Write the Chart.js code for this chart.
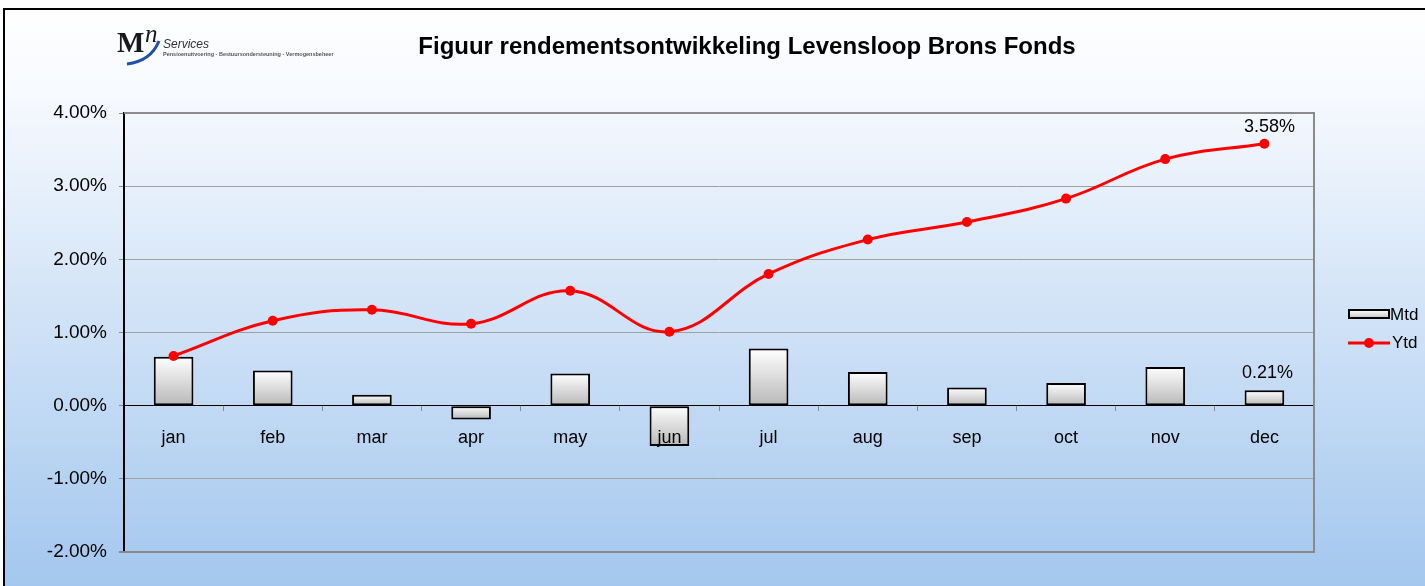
<!DOCTYPE html>
<html>
<head>
<meta charset="utf-8">
<script src="https://cdn.jsdelivr.net/npm/chart.js@4.4.1/dist/chart.umd.min.js"></script>
<style>
  html, body { margin: 0; padding: 0; background: #fff; }
  #wrap { width: 1425px; height: 586px; position: relative; }
</style>
</head>
<body>
<div id="wrap"><canvas id="chart" width="1425" height="586"></canvas></div>
<script>
const months = ["jan", "feb", "mar", "apr", "may", "jun", "jul", "aug", "sep", "oct", "nov", "dec"];
// maandrendement (in %)
const mtdValues = [0.67, 0.48, 0.15, -0.19, 0.44, -0.55, 0.78, 0.46, 0.25, 0.31, 0.53, 0.21];
// cumulatief rendement (in %)
const ytdValues = [0.68, 1.16, 1.31, 1.12, 1.57, 1.01, 1.80, 2.27, 2.51, 2.83, 3.37, 3.58];
const yTicks = [-2, -1, 0, 1, 2, 3, 4];

const FONT = "'Liberation Sans', Arial, sans-serif";
const fmtPct = v => v.toFixed(2) + "%";

// achtergrond, kader, logo en titel
const framePlugin = {
  id: 'frame',
  beforeDraw(chart) {
    const c = chart.ctx;
    c.save();
    c.fillStyle = '#ffffff';
    c.fillRect(0, 0, chart.width, chart.height);
    const g = c.createLinearGradient(0, 10, 0, chart.height);
    g.addColorStop(0, '#ffffff');
    g.addColorStop(0.15, '#f6f9fe');
    g.addColorStop(1, '#a3c7ee');
    c.fillStyle = g;
    c.fillRect(4, 10, chart.width - 4, chart.height - 10);
    c.fillStyle = '#000';
    c.fillRect(3, 8, chart.width - 3, 2);
    c.fillRect(3, 8, 2, chart.height - 8);

    // logo
    c.fillStyle = '#1a1a1a';
    c.font = "bold 29px 'Liberation Serif', 'DejaVu Serif', serif";
    c.textBaseline = 'alphabetic';
    c.fillText('M', 117, 52);
    c.font = "italic 25px 'Liberation Serif', 'DejaVu Serif', serif";
    c.fillText('n', 145, 42);
    c.strokeStyle = '#1f4fa8';
    c.lineWidth = 3;
    c.beginPath();
    c.moveTo(159, 41);
    c.quadraticCurveTo(151, 61, 127, 64);
    c.stroke();
    c.fillStyle = '#333';
    c.font = "italic 12px 'Liberation Sans', Arial, sans-serif";
    c.fillText('Services', 163, 48);
    c.font = "bold 5.5px 'Liberation Sans', Arial, sans-serif";
    c.fillStyle = '#555';
    c.fillText('Pensioenuitvoering - Bestuursondersteuning - Vermogensbeheer', 163, 56);

    // titel
    c.fillStyle = '#000';
    c.font = "bold 24px " + FONT;
    c.textAlign = 'center';
    c.textBaseline = 'middle';
    c.fillText('Figuur rendementsontwikkeling Levensloop Brons Fonds', 747, 47);
    c.restore();
  },
  beforeDatasetsDraw(chart) {
    const c = chart.ctx, a = chart.chartArea;
    c.save();
    c.strokeStyle = '#8a8a8a';
    c.lineWidth = 2;
    c.beginPath();
    c.moveTo(a.left, a.top);
    c.lineTo(a.right, a.top);
    c.lineTo(a.right, a.bottom);
    c.lineTo(a.left - 5, a.bottom);
    c.stroke();
    c.restore();
  },
  afterDraw(chart) {
    const c = chart.ctx;
    c.save();
    // waardelabels bij december
    c.fillStyle = '#000';
    c.font = "18px " + FONT;
    c.textAlign = 'center';
    c.textBaseline = 'middle';
    const ptL = chart.getDatasetMeta(1).data[11];
    c.fillText(fmtPct(ytdValues[11]), ptL.x + 5, ptL.y - 17);
    const bar = chart.getDatasetMeta(0).data[11];
    c.fillText(fmtPct(mtdValues[11]), bar.x + 3, bar.y - 17);

    // legenda
    const lx = 1349;
    const bg = c.createLinearGradient(0, 310, 0, 319);
    bg.addColorStop(0, '#ffffff');
    bg.addColorStop(1, '#bdbdbd');
    c.fillStyle = bg;
    c.fillRect(lx, 310, 40, 8);
    c.strokeStyle = '#000';
    c.lineWidth = 2;
    c.strokeRect(lx, 310, 40, 8);
    c.strokeStyle = '#ff0000';
    c.lineWidth = 3;
    c.beginPath();
    c.moveTo(lx - 1, 343);
    c.lineTo(lx + 41, 343);
    c.stroke();
    c.fillStyle = '#ff0000';
    c.beginPath();
    c.arc(lx + 20, 343, 5, 0, Math.PI * 2);
    c.fill();
    c.fillStyle = '#000';
    c.textAlign = 'left';
    c.font = "17px " + FONT;
    c.fillText('Mtd', lx + 41, 315);
    c.fillText('Ytd', lx + 43, 343);
    c.restore();
  }
};

function barGradient(context) {
  const chart = context.chart;
  if (!chart.chartArea || !chart.scales.y) return '#e0e0e0';
  const y = chart.scales.y;
  const v = context.raw;
  const p1 = y.getPixelForValue(v), p0 = y.getPixelForValue(0);
  const top = Math.min(p0, p1), bottom = Math.max(p0, p1);
  if (bottom - top < 1) return '#e0e0e0';
  const g = chart.ctx.createLinearGradient(0, top, 0, bottom);
  g.addColorStop(0, '#ffffff');
  g.addColorStop(1, '#b8b8b8');
  return g;
}

new Chart(document.getElementById('chart'), {
  data: {
    labels: months,
    datasets: [
      {
        type: 'bar',
        label: 'Mtd',
        data: mtdValues,
        backgroundColor: barGradient,
        borderColor: '#000',
        borderWidth: 2,
        borderSkipped: false,
        barPercentage: 0.4,
        categoryPercentage: 1,
        order: 2
      },
      {
        type: 'line',
        label: 'Ytd',
        data: ytdValues,
        borderColor: '#ff0000',
        backgroundColor: '#ff0000',
        borderWidth: 3,
        pointRadius: 5,
        pointBorderWidth: 0,
        tension: 0.4,
        order: 1
      }
    ]
  },
  options: {
    responsive: false,
    animation: false,
    layout: { padding: { left: 0, right: 111, top: 113, bottom: 34 } },
    plugins: { legend: { display: false }, tooltip: { enabled: false } },
    scales: {
      x: {
        type: 'category',
        position: { y: 0 },
        offset: true,
        afterFit(scale) { scale.height = 0; },
        grid: { offset: true, drawOnChartArea: false, tickLength: 5, color: '#8a8a8a' },
        border: { color: '#000', width: 1 },
        ticks: { z: 1, color: '#000', font: { family: FONT, size: 18 }, padding: 17, maxRotation: 0 }
      },
      y: {
        min: -2,
        max: 4,
        afterFit(scale) { scale.width = 124; },
        afterBuildTicks(scale) { scale.ticks = yTicks.map(v => ({ value: v })); },
        grid: {
          color: ctx => (ctx.tick && ctx.tick.value === 0) ? '#000' : '#a0a0a0',
          tickColor: '#8a8a8a',
          tickLength: 5
        },
        border: { color: '#000', width: 2 },
        ticks: {
          color: '#000',
          font: { family: FONT, size: 19 },
          padding: 12,
          callback: v => fmtPct(v)
        }
      }
    }
  },
  plugins: [framePlugin]
});
</script>
</body>
</html>
